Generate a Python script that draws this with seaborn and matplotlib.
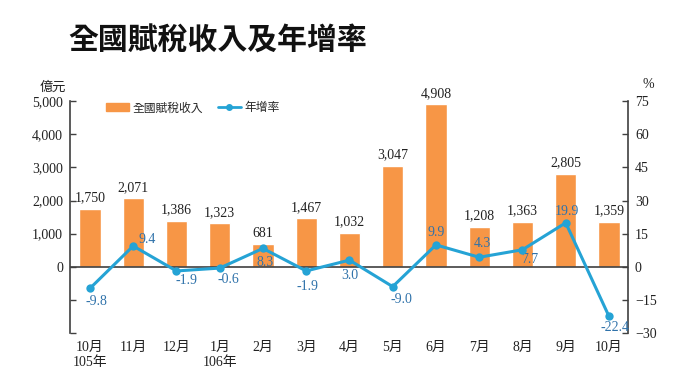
import matplotlib
matplotlib.use("Agg")
import matplotlib.pyplot as plt
import seaborn as sns
import pandas as pd
import numpy as np
from matplotlib.lines import Line2D
from matplotlib.patches import Patch

months = ["10月\n105年", "11月", "12月", "1月\n106年", "2月", "3月", "4月",
          "5月", "6月", "7月", "8月", "9月", "10月"]
revenue = [1750, 2071, 1386, 1323, 681, 1467, 1032, 3047, 4908, 1208, 1363, 2805, 1359]
growth = [-9.8, 9.4, -1.9, -0.6, 8.3, -1.9, 3.0, -9.0, 9.9, 4.3, 7.7, 19.9, -22.4]
# label placement for growth: (dx points, dy points)
growth_offsets = [(5, -9.5), (10, 5), (7, -7), (6, -8), (1.5, -10), (1, -11), (0, -11),
                  (6, -9), (0, 9), (2, 10), (5, -7), (1, 8), (4, -8)]

sns.set_theme(style="white")
plt.rcParams["font.family"] = ["Liberation Serif", "Noto Sans CJK TC"]

BAR = "#F79646"
LINE = "#25A3D5"
LBL = "#2F72AA"

fig = plt.figure(figsize=(6.8, 3.83), dpi=100)
ax = fig.add_axes([0.103, 0.1305, 0.8205, 0.6055])

df = pd.DataFrame({"month": months, "revenue": revenue})
sns.barplot(data=df, x="month", y="revenue", color=BAR, saturation=1, width=0.49, ax=ax)
ax.set_xlim(-0.46, 12.44)
ax.set_ylim(-2000, 5000)
ax.set_yticks(np.arange(-2000, 5001, 1000))
ax.set_yticklabels(["", ""] + [f"{v:,}" for v in range(0, 5001, 1000)])
ax.set_xlabel("")
ax.set_ylabel("")
ax.axhline(0, color="#404040", lw=1.2, zorder=3)

for i, v in enumerate(revenue):
    ax.annotate(f"{v:,}", (i, v), xytext=(0, 3), textcoords="offset points",
                ha="center", va="bottom", fontsize=10, color="#222222")

ax2 = ax.twinx()
sns.lineplot(x=np.arange(len(growth)), y=growth, ax=ax2, color=LINE, lw=2.2,
             marker="o", markersize=6, markeredgewidth=0, zorder=5)
ax2.set_ylim(-30, 75)
ax2.set_yticks(np.arange(-30, 76, 15))
for i, v in enumerate(growth):
    dx, dy = growth_offsets[i]
    ax2.annotate(f"{v:.1f}", (i, v), xytext=(dx, dy), textcoords="offset points",
                 ha="center", va="center", fontsize=10, color=LBL)

for a in (ax, ax2):
    for s in ("top", "bottom", "left", "right"):
        a.spines[s].set_visible(False)

ax.spines["left"].set_visible(True)
ax.spines["left"].set_color("#404040")
ax.spines["left"].set_linewidth(1.2)
ax2.spines["right"].set_visible(True)
ax2.spines["right"].set_color("#404040")
ax2.spines["right"].set_linewidth(1.2)

ax.tick_params(axis="y", direction="in", length=4, width=1, color="#404040",
               labelsize=10, labelcolor="#222222", pad=5, left=True)
ax2.tick_params(axis="y", direction="in", length=4, width=1, color="#404040",
                labelsize=10, labelcolor="#222222", pad=5, right=True)
ax.tick_params(axis="x", length=0, labelsize=10, labelcolor="#222222", pad=6)
ax.grid(False)
ax2.grid(False)

fig.text(0.078, 0.772, "億元", fontsize=9.5, color="#222222", ha="center", va="center")
fig.text(0.953, 0.78, "%", fontsize=10, color="#222222", ha="center", va="center")

handles = [Patch(color=BAR), Line2D([0], [0], color=LINE, lw=2, marker="o", markersize=4)]
ax.legend(handles, ["全國賦稅收入", "年增率"], loc="upper left", bbox_to_anchor=(0.045, 1.04),
          ncol=2, frameon=False, fontsize=8.5, handlelength=2.0, handletextpad=0.3,
          columnspacing=1.2)

fig.text(0.1, 0.895, "全國賦稅收入及年增率", fontsize=21.5, fontweight="bold",
         family=["Noto Sans CJK TC"], color="#111111", ha="left", va="center")

fig.savefig("out.png", dpi=100)
